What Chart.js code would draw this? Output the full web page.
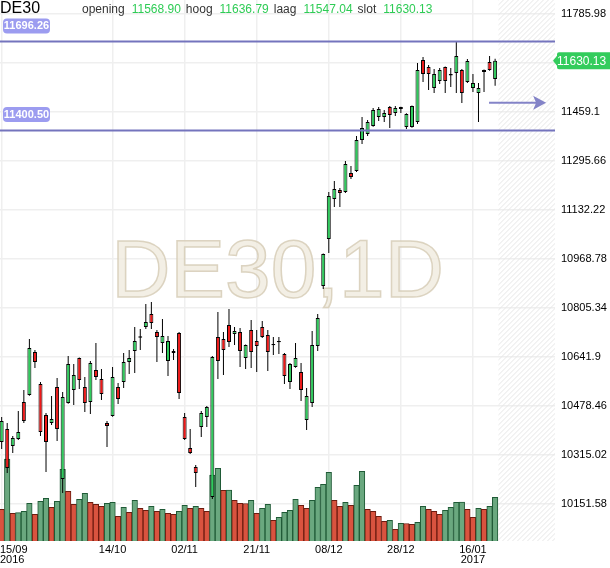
<!DOCTYPE html>
<html>
<head>
<meta charset="utf-8">
<title>DE30</title>
<script src="https://cdn.jsdelivr.net/npm/chart.js@4.4.1/dist/chart.umd.min.js"></script>
<style>
  html, body { margin: 0; padding: 0; background: #fff; }
  #chart { display: block; }
</style>
</head>
<body>
<canvas id="chart" width="610" height="568"></canvas>
<script>
// DE30 daily candles, 15/09/2016 - 20/01/2017
const opens = [10358.4, 10401.8, 10345.1, 10368.4, 10491.8, 10515.2, 10658.6, 10551.9, 10448.5, 10421.8,
  10541.9, 10235.0, 10488.5, 10531.9, 10638.6, 10541.9, 10491.8, 10598.6, 10568.5, 10421.8,
  10445.1, 10541.9, 10558.5, 10625.2, 10661.9, 10706.0, 10742.0, 10785.4, 10725.3, 10688.6,
  10628.6, 10655.3, 10722.0, 10441.8, 10338.4, 10275.0, 10408.4, 10441.8, 10175.0, 10708.6,
  10702.0, 10748.7, 10718.6, 10725.3, 10638.6, 10732.0, 10695.3, 10742.0, 10715.3, 10685.3,
  10695.3, 10651.9, 10558.5, 10608.6, 10591.9, 10431.8, 10488.5, 10678.6, 10878.8, 11035.5,
  11168.9, 11199.0, 11192.3, 11255.7, 11262.3, 11365.7, 11385.7, 11412.4, 11442.4, 11442.4,
  11475.8, 11455.8, 11469.1, 11409.1, 11409.1, 11425.8, 11632.6, 11609.2, 11539.2, 11562.5,
  11609.2, 11585.9, 11589.2, 11599.2, 11559.2, 11539.2, 11522.5, 11592.5, 11625.9, 11568.90];

const highs = [10441.8, 10421.8, 10378.4, 10461.8, 10531.9, 10702.0, 10665.3, 10558.5, 10455.1, 10511.8,
  10571.9, 10525.2, 10645.3, 10618.6, 10640.0, 10575.2, 10628.6, 10688.6, 10601.9, 10428.5,
  10608.6, 10555.2, 10655.3, 10665.3, 10742.0, 10735.3, 10818.7, 10825.4, 10732.0, 10768.7,
  10712.0, 10668.6, 10725.3, 10455.1, 10401.8, 10281.7, 10461.8, 10478.5, 10645.3, 10792.0,
  10725.3, 10802.0, 10742.0, 10738.7, 10684.0, 10765.3, 10732.0, 10762.0, 10732.0, 10708.6,
  10708.6, 10655.3, 10621.9, 10688.6, 10621.9, 10538.5, 10728.6, 10785.4, 10987.0, 11192.3,
  11229.0, 11205.6, 11295.7, 11279.0, 11379.1, 11442.4, 11432.4, 11472.5, 11475.8, 11465.8,
  11479.1, 11479.1, 11477.0, 11455.0, 11481.0, 11622.6, 11642.6, 11615.9, 11602.6, 11605.9,
  11611.0, 11605.9, 11692.6, 11602.6, 11635.9, 11585.9, 11555.9, 11601.0, 11645.9, 11636.79];

const lows = [10335.1, 10255.0, 10321.7, 10365.1, 10421.8, 10513.0, 10605.2, 10378.4, 10258.3, 10415.1,
  10361.8, 10188.3, 10486.0, 10481.8, 10535.2, 10458.5, 10451.8, 10565.2, 10498.5, 10341.7,
  10443.0, 10485.2, 10538.5, 10585.2, 10588.6, 10665.3, 10735.3, 10735.3, 10625.2, 10655.3,
  10578.6, 10631.9, 10501.8, 10365.1, 10318.4, 10208.3, 10375.1, 10408.4, 10168.3, 10568.5,
  10581.9, 10675.3, 10682.0, 10608.6, 10601.9, 10605.2, 10591.9, 10705.3, 10595.2, 10648.6,
  10651.9, 10551.9, 10535.2, 10606.0, 10495.2, 10398.4, 10475.2, 10661.9, 10868.7, 10988.8,
  11142.3, 11142.3, 11188.9, 11235.6, 11259.0, 11352.4, 11379.1, 11410.0, 11429.1, 11425.8,
  11405.8, 11445.8, 11455.8, 11402.4, 11407.0, 11419.1, 11559.2, 11532.5, 11522.5, 11552.5,
  11522.5, 11542.5, 11522.5, 11489.1, 11555.9, 11525.8, 11425.8, 11525.8, 11597.0, 11547.04];

const closes = [10428.5, 10271.7, 10371.8, 10391.8, 10428.5, 10671.9, 10625.2, 10391.8, 10358.4, 10435.1,
  10401.8, 10508.5, 10618.6, 10581.9, 10565.2, 10488.5, 10621.9, 10575.2, 10518.5, 10411.8,
  10575.2, 10501.8, 10625.2, 10638.6, 10695.3, 10711.0, 10758.7, 10755.3, 10708.6, 10712.0,
  10695.3, 10661.9, 10521.8, 10368.4, 10321.7, 10255.0, 10455.1, 10475.2, 10641.9, 10628.6,
  10665.3, 10692.0, 10728.6, 10661.9, 10682.0, 10658.6, 10678.6, 10708.6, 10658.6, 10681.0,
  10691.0, 10578.6, 10618.6, 10638.6, 10531.9, 10511.8, 10682.0, 10772.0, 10985.5, 11178.9,
  11202.3, 11188.9, 11285.7, 11242.3, 11365.7, 11405.8, 11425.8, 11465.8, 11469.1, 11455.8,
  11449.1, 11472.5, 11475.8, 11452.5, 11479.1, 11599.2, 11585.9, 11585.9, 11585.9, 11599.2,
  11562.5, 11581.0, 11645.9, 11522.5, 11629.2, 11555.9, 11539.2, 11599.2, 11599.2, 11630.13];

const volumes = [31700, 82000, 27700, 28300, 29700, 37700, 26700, 39700, 42700, 33700,
  39700, 71700, 49700, 36700, 41700, 47700, 38700, 36700, 34700, 37700,
  38700, 24700, 33700, 28700, 40700, 32700, 30700, 34700, 29700, 31700,
  27700, 26700, 29700, 35700, 32700, 34700, 32700, 29700, 66000, 72700,
  50700, 51000, 40700, 37700, 37500, 40700, 27700, 32700, 36700, 20700,
  23700, 28700, 30700, 41700, 35700, 32700, 40700, 53700, 56700, 68700,
  40700, 34700, 38700, 35700, 55700, 69700, 31700, 29700, 24700, 19700,
  20700, 11700, 17700, 17500, 16700, 18700, 34700, 31700, 29700, 26700,
  30700, 33700, 38700, 39000, 31700, 23700, 32700, 31700, 34700, 43700];

// x-axis ticks (candle index) and their labels
const tickIndex = [0, 20, 33, 46, 59, 72, 85];
const tickLabels = [['15/09', '2016'], ['14/10'], ['02/11'], ['21/11'], ['08/12'], ['28/12'], ['16/01', '2017']];
// right price axis
const priceTicks = [10151.58, 10315.02, 10478.46, 10641.9, 10805.34, 10968.78, 11132.22, 11295.66, 11459.1, 11622.54, 11785.98];
// horizontal levels drawn on the chart
const levels = [11696.26, 11400.50];
const headerNames = ['opening', 'hoog', 'laag', 'slot'];

const SYMBOL = 'DE30';
const FONT = '"Liberation Sans", Arial, sans-serif';
const GREEN = '#2ecc5c';
const RED = '#f01818';
const LEVEL_COLOR = '#7474bd';

const idx = opens.map((_, i) => i);
const last = opens.length - 1;

const wickData = idx.map(i => ({ x: i, y: [lows[i], highs[i]] }));
const bodyData = idx.map(i => ({ x: i, y: [Math.min(opens[i], closes[i]), Math.max(opens[i], closes[i])] }));
const bodyColors = idx.map(i => (closes[i] >= opens[i] ? GREEN : RED));
const volData = idx.map(i => ({ x: i, y: volumes[i] }));
// volume bar is green when it rises over the day before
const volUp = idx.map(i => i > 0 && volumes[i] > volumes[i - 1]);

// extra drawing: watermark, hatch, levels, badges, header, date labels
const decor = {
  id: 'decor',
  beforeDatasetsDraw(chart) {
    const { ctx, chartArea: a, scales: { x } } = chart;
    ctx.save();
    ctx.font = '82px ' + FONT;
    ctx.textAlign = 'center';
    ctx.textBaseline = 'alphabetic';
    ctx.fillStyle = 'rgba(240, 235, 222, 0.8)';
    ctx.strokeStyle = 'rgba(212, 202, 180, 0.8)';
    ctx.lineWidth = 1.5;
    const wx = (a.left + a.right) / 2;
    const wy = (a.top + a.bottom) / 2 + 26;
    ctx.fillText(SYMBOL + ',1D', wx, wy);
    ctx.strokeText(SYMBOL + ',1D', wx, wy);

    // hatched area after the last candle
    const hx = x.getPixelForValue(last + 0.6);
    ctx.beginPath();
    ctx.rect(hx, a.top, a.right - hx, a.bottom - a.top);
    ctx.clip();
    ctx.strokeStyle = '#e6e6e6';
    ctx.lineWidth = 1;
    const h = a.bottom - a.top;
    for (let k = hx - h; k < a.right; k += 5) {
      ctx.beginPath();
      ctx.moveTo(k, a.bottom);
      ctx.lineTo(k + h, a.top);
      ctx.stroke();
    }
    ctx.restore();
  },
  afterDatasetsDraw(chart) {
    const { ctx, chartArea: a, scales: { x, y } } = chart;
    ctx.save();
    ctx.strokeStyle = LEVEL_COLOR;
    ctx.lineWidth = 2;
    levels.forEach(v => {
      const py = Math.round(y.getPixelForValue(v)) + 0.5;
      ctx.beginPath();
      ctx.moveTo(a.left, py);
      ctx.lineTo(a.right, py);
      ctx.stroke();
    });

    // arrow to the right of the last candles
    const ay = y.getPixelForValue(11490);
    const ax0 = x.getPixelForValue(87.9);
    const ax1 = x.getPixelForValue(98.2);
    ctx.strokeStyle = 'rgba(110, 110, 190, 0.85)';
    ctx.fillStyle = 'rgba(110, 110, 190, 0.85)';
    ctx.beginPath();
    ctx.moveTo(ax0, ay);
    ctx.lineTo(ax1 - 10, ay);
    ctx.stroke();
    ctx.beginPath();
    ctx.moveTo(ax1, ay);
    ctx.lineTo(ax1 - 13, ay - 7);
    ctx.lineTo(ax1 - 10, ay);
    ctx.lineTo(ax1 - 13, ay + 7);
    ctx.closePath();
    ctx.fill();
    ctx.restore();
  },
  afterDraw(chart) {
    const { ctx, chartArea: a, scales: { x, y } } = chart;
    ctx.save();

    // level badges on the left
    ctx.font = 'bold 11px ' + FONT;
    ctx.textBaseline = 'middle';
    ctx.textAlign = 'center';
    levels.forEach(v => {
      const py = y.getPixelForValue(v);
      const top = py - 22.5;
      ctx.fillStyle = '#9c9cf0';
      ctx.beginPath();
      ctx.roundRect(a.left + 3, top, 47, 15, 4);
      ctx.fill();
      ctx.fillStyle = '#fff';
      ctx.fillText(v.toFixed(2), a.left + 26.5, top + 8);
    });

    // last price badge on the axis
    const cy = y.getPixelForValue(closes[last]);
    ctx.fillStyle = '#33cc5c';
    ctx.beginPath();
    ctx.moveTo(a.right - 2, cy);
    ctx.lineTo(a.right + 2, cy - 5);
    ctx.lineTo(a.right + 2, cy - 6.5);
    ctx.arcTo(a.right + 2, cy - 8.5, a.right + 4, cy - 8.5, 2);
    ctx.lineTo(chart.width + 5, cy - 8.5);
    ctx.lineTo(chart.width + 5, cy + 8.5);
    ctx.lineTo(a.right + 4, cy + 8.5);
    ctx.arcTo(a.right + 2, cy + 8.5, a.right + 2, cy + 6.5, 2);
    ctx.lineTo(a.right + 2, cy + 5);
    ctx.closePath();
    ctx.fill();
    ctx.fillStyle = '#fff';
    ctx.font = '12px ' + FONT;
    ctx.textAlign = 'left';
    ctx.fillText(closes[last].toFixed(2), a.right + 2, cy + 0.5);

    // header: symbol and last candle values
    ctx.textBaseline = 'alphabetic';
    ctx.fillStyle = '#000';
    ctx.font = '16px ' + FONT;
    ctx.fillText(SYMBOL, 0, 13);
    ctx.font = '12px ' + FONT;
    const vals = [opens[last], highs[last], lows[last], closes[last]];
    let hx = 82;
    headerNames.forEach((name, k) => {
      ctx.fillStyle = '#333';
      ctx.fillText(name, hx, 13);
      hx += ctx.measureText(name).width + 7;
      const t = vals[k].toFixed(2);
      ctx.fillStyle = '#2ecc55';
      ctx.fillText(t, hx, 13);
      hx += ctx.measureText(t).width + 5;
    });

    // date labels under the plot
    ctx.fillStyle = '#000';
    ctx.font = '11px ' + FONT;
    ctx.textAlign = 'left';
    tickIndex.forEach((v, k) => {
      const px = x.getPixelForValue(v);
      tickLabels[k].forEach((line, j) => {
        const w = ctx.measureText(line).width;
        const lx = Math.min(Math.max(px - w / 2, 0), a.right - w);
        ctx.fillText(line, lx, a.bottom + 12 + j * 10);
      });
    });
    ctx.restore();
  }
};

new Chart(document.getElementById('chart'), {
  type: 'bar',
  data: {
    datasets: [
      {
        label: 'body',
        data: bodyData,
        backgroundColor: bodyColors,
        borderColor: '#000',
        borderWidth: 1,
        borderSkipped: false,
        maxBarThickness: 4,
        grouped: false,
        order: 1,
        yAxisID: 'y'
      },
      {
        label: 'wick',
        data: wickData,
        backgroundColor: '#000',
        borderWidth: 0,
        maxBarThickness: 1,
        grouped: false,
        order: 2,
        yAxisID: 'y'
      },
      {
        label: 'volume',
        data: volData,
        backgroundColor: volUp.map(u => (u ? '#6aa87f' : '#d9533f')),
        borderColor: volUp.map(u => (u ? '#1f5a36' : '#6c1c10')),
        borderWidth: 1,
        barPercentage: 1,
        categoryPercentage: 1,
        grouped: false,
        order: 3,
        yAxisID: 'yv'
      }
    ]
  },
  options: {
    responsive: false,
    animation: false,
    events: [],
    layout: { padding: 0, autoPadding: false },
    plugins: { legend: { display: false }, tooltip: { enabled: false } },
    scales: {
      x: {
        type: 'linear',
        offset: false,
        min: -0.3,
        max: 99.8,
        border: { display: false },
        grid: { color: '#efefef', lineWidth: 1.5, drawTicks: false, offset: false },
        ticks: { display: false },
        afterBuildTicks: s => { s.ticks = tickIndex.map(v => ({ value: v })); },
        afterFit: s => { s.height = 27; s.paddingLeft = 0; s.paddingRight = 0; }
      },
      y: {
        position: 'right',
        min: 10028.2,
        max: 11832.7,
        border: { display: false },
        grid: { color: '#efefef', lineWidth: 1.5, drawTicks: false },
        ticks: {
          padding: 6,
          color: '#000',
          font: { family: FONT, size: 11 },
          callback: v => String(+v.toFixed(2))
        },
        afterBuildTicks: s => { s.ticks = priceTicks.map(v => ({ value: v })); },
        afterFit: s => { s.width = 55; s.paddingTop = 0; s.paddingBottom = 0; }
      },
      yv: { display: false, min: 0, max: 541000 }
    }
  },
  plugins: [decor]
});
</script>
</body>
</html>
